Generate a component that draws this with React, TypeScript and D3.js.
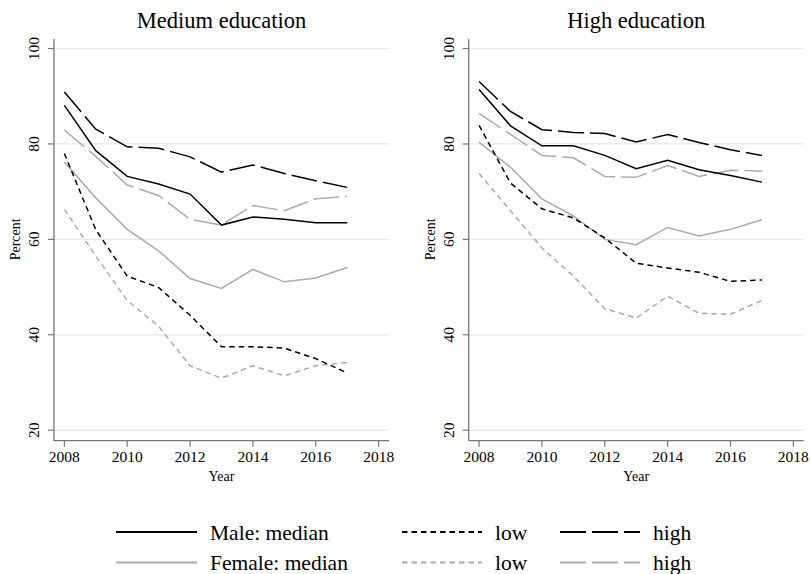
import React from "react";
import * as d3 from "d3";

const years = [2008, 2009, 2010, 2011, 2012, 2013, 2014, 2015, 2016, 2017];
const xTicks = [2008, 2010, 2012, 2014, 2016, 2018];
const yTicks = [20, 40, 60, 80, 100];
const panelTitles = ["Medium education", "High education"];

// Medium education
const medMaleMedian = [88.1, 78.6, 73.2, 71.6, 69.5, 63.0, 64.7, 64.2, 63.5, 63.5];
const medMaleLow = [78.0, 62.0, 52.3, 49.9, 44.1, 37.5, 37.5, 37.2, 35.0, 32.0];
const medMaleHigh = [90.9, 83.1, 79.4, 79.1, 77.3, 74.1, 75.6, 73.8, 72.3, 70.9];
const medFemaleMedian = [76.2, 68.7, 62.1, 57.6, 51.8, 49.7, 53.7, 51.1, 51.9, 54.1];
const medFemaleLow = [66.3, 56.5, 47.2, 41.8, 33.5, 30.9, 33.5, 31.4, 33.5, 34.2];
const medFemaleHigh = [82.9, 77.4, 71.4, 69.2, 64.2, 63.0, 67.1, 66.0, 68.5, 69.0];

// High education
const highMaleMedian = [91.4, 83.8, 79.6, 79.6, 77.6, 74.8, 76.6, 74.6, 73.4, 72.0];
const highMaleLow = [83.9, 71.8, 66.4, 64.5, 60.3, 55.0, 54.0, 53.1, 51.2, 51.5];
const highMaleHigh = [93.1, 86.8, 83.0, 82.4, 82.2, 80.4, 82.0, 80.3, 78.8, 77.6];
const highFemaleMedian = [80.4, 75.1, 68.5, 64.9, 60.0, 58.9, 62.5, 60.7, 62.1, 64.1];
const highFemaleLow = [73.8, 66.0, 58.2, 52.3, 45.5, 43.5, 48.1, 44.5, 44.3, 47.2];
const highFemaleHigh = [86.4, 82.0, 77.6, 77.1, 73.2, 73.0, 75.5, 73.2, 74.5, 74.3];

const BLACK = "#000000";
const GRAY = "#ababab";
const SOLID = "none";
const SHORT = "5.5 4";
const LONG = "26 6";

type Series = { values: number[]; color: string; dash: string };

const panels: Series[][] = [
  [
    { values: medFemaleMedian, color: GRAY, dash: SOLID },
    { values: medFemaleLow, color: GRAY, dash: SHORT },
    { values: medFemaleHigh, color: GRAY, dash: LONG },
    { values: medMaleMedian, color: BLACK, dash: SOLID },
    { values: medMaleLow, color: BLACK, dash: SHORT },
    { values: medMaleHigh, color: BLACK, dash: LONG },
  ],
  [
    { values: highFemaleMedian, color: GRAY, dash: SOLID },
    { values: highFemaleLow, color: GRAY, dash: SHORT },
    { values: highFemaleHigh, color: GRAY, dash: LONG },
    { values: highMaleMedian, color: BLACK, dash: SOLID },
    { values: highMaleLow, color: BLACK, dash: SHORT },
    { values: highMaleHigh, color: BLACK, dash: LONG },
  ],
];

const legendItems = [
  { label: "Male: median", color: BLACK, dash: SOLID, col: 0, row: 0 },
  { label: "low", color: BLACK, dash: SHORT, col: 1, row: 0 },
  { label: "high", color: BLACK, dash: LONG, col: 2, row: 0 },
  { label: "Female: median", color: GRAY, dash: SOLID, col: 0, row: 1 },
  { label: "low", color: GRAY, dash: SHORT, col: 1, row: 1 },
  { label: "high", color: GRAY, dash: LONG, col: 2, row: 1 },
];

const FONT = "'Liberation Serif', 'Times New Roman', serif";
const AXIS = "#777777";

export default function App() {
  const top = 39;
  const bottom = 440.7;
  const y = d3.scaleLinear().domain([17.8, 102]).range([bottom, top]);
  const panelLeft = [54, 468.7];
  const panelWidth = 335;

  const legendLineX = [116, 402, 560];
  const legendLineW = [81, 80, 80];
  const legendTextX = [210, 495, 653];
  const legendRowY = [532, 562.5];

  return (
    <svg
      width={810}
      height={574}
      style={{ position: "absolute", left: 0, top: 0, background: "#fff" }}
      fontFamily={FONT}
    >
      <rect x={0} y={0} width={810} height={574} fill="#fff" />
      {panels.map((series, pi) => {
        const left = panelLeft[pi];
        const right = left + panelWidth;
        const x = d3.scaleLinear().domain([2007.67, 2018.33]).range([left, right]);
        const line = d3
          .line<number>()
          .x((_, i) => x(years[i]))
          .y((v) => y(v));
        const cx = (left + right) / 2;
        return (
          <g key={pi}>
            <text x={cx} y={28} textAnchor="middle" fontSize={22.5}>
              {panelTitles[pi]}
            </text>
            {yTicks.map((t) => (
              <line key={"g" + t} x1={left} x2={right} y1={y(t)} y2={y(t)} stroke="#e6e6e6" strokeWidth={1.2} />
            ))}
            {series.map((s, si) => (
              <path
                key={si}
                d={line(s.values) || ""}
                fill="none"
                stroke={s.color}
                strokeWidth={1.5}
                strokeDasharray={s.dash}
              />
            ))}
            <line x1={left} x2={left} y1={top} y2={bottom} stroke={AXIS} strokeWidth={1.3} />
            <line x1={left} x2={right} y1={bottom} y2={bottom} stroke={AXIS} strokeWidth={1.3} />
            {yTicks.map((t) => (
              <g key={"y" + t}>
                <line x1={left - 6} x2={left} y1={y(t)} y2={y(t)} stroke={AXIS} strokeWidth={1.2} />
                <text
                  transform={`translate(${left - 15},${y(t)}) rotate(-90)`}
                  textAnchor="middle"
                  fontSize={15.5}
                >
                  {t}
                </text>
              </g>
            ))}
            {xTicks.map((t) => (
              <g key={"x" + t}>
                <line x1={x(t)} x2={x(t)} y1={bottom} y2={bottom + 6} stroke={AXIS} strokeWidth={1.2} />
                <text x={x(t)} y={462} textAnchor="middle" fontSize={15.5}>
                  {t}
                </text>
              </g>
            ))}
            <text x={cx} y={481} textAnchor="middle" fontSize={14}>
              Year
            </text>
            <text
              transform={`translate(${left - 34},${y(60)}) rotate(-90)`}
              textAnchor="middle"
              fontSize={14}
            >
              Percent
            </text>
          </g>
        );
      })}
      {legendItems.map((it, i) => (
        <g key={i}>
          <line
            x1={legendLineX[it.col]}
            x2={legendLineX[it.col] + legendLineW[it.col]}
            y1={legendRowY[it.row]}
            y2={legendRowY[it.row]}
            stroke={it.color}
            strokeWidth={2}
            strokeDasharray={it.dash}
          />
          <text x={legendTextX[it.col]} y={legendRowY[it.row] + 7.5} fontSize={21.5}>
            {it.label}
          </text>
        </g>
      ))}
    </svg>
  );
}
